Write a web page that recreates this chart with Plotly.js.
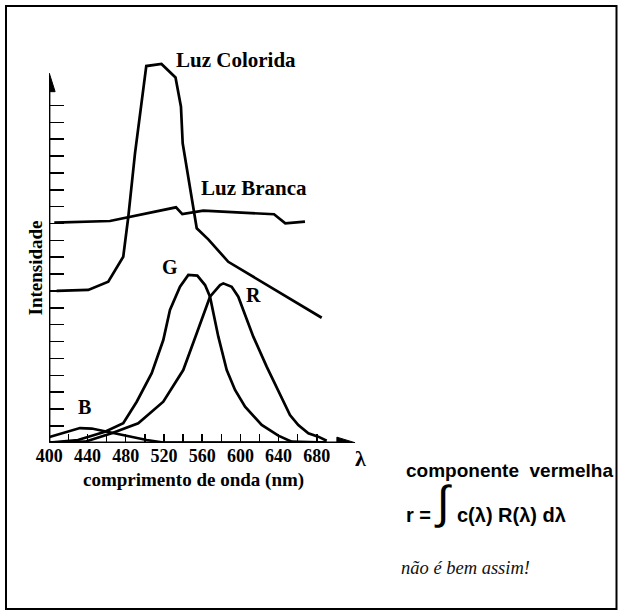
<!DOCTYPE html>
<html>
<head>
<meta charset="utf-8">
<script src="https://cdn.plot.ly/plotly-3.0.1.min.js"></script>
<style>html,body{margin:0;padding:0;background:#fff;}#chart{width:622px;height:615px;}</style>
</head>
<body>
<div id="chart"></div>
<script>
// ---- data (wavelength in nm, intensity in axis tick units) ----
const coloridaNm = [407.7, 440.8, 461.7, 477.4, 482.7, 489.7, 501.5, 517.4, 532.1, 537.8, 539.6, 547.3, 554.3, 566.4, 573.4, 587.3, 685.1];
const coloridaY  = [9.00, 9.06, 9.55, 11.03, 13.40, 17.16, 22.34, 22.46, 21.66, 19.93, 17.76, 14.99, 12.72, 12.06, 11.62, 10.73, 7.41];

const brancaNm = [405.2, 463.5, 532.6, 539.2, 561.2, 635.2, 647.0, 667.6];
const brancaY  = [13.05, 13.15, 13.96, 13.56, 13.76, 13.55, 13.01, 13.11];

const gNm = [400.7, 430.0, 458.3, 477.4, 491.5, 507.2, 519.3, 526.3, 536.8, 545.5, 554.9, 563.0, 568.2, 576.9, 585.7, 594.4, 604.9, 622.3, 639.7, 653.7, 690];
const gY  = [0.00, 0.16, 0.65, 1.15, 2.43, 4.12, 6.09, 7.87, 9.25, 9.95, 9.91, 9.35, 8.66, 6.29, 4.31, 3.13, 2.14, 1.05, 0.42, 0.06, 0];

const rNm = [400.7, 437.4, 465.3, 493.1, 519.3, 540.2, 554.3, 568.2, 578.7, 582.1, 590.9, 597.8, 603.0, 613.5, 627.5, 641.4, 651.9, 660.6, 671.1, 681.5, 690.3];
const rY  = [0.00, 0.06, 0.56, 1.15, 2.43, 4.31, 6.49, 8.66, 9.35, 9.45, 9.25, 8.66, 7.87, 6.29, 4.51, 2.93, 1.64, 1.05, 0.56, 0.36, 0.12];

const bNm = [400.2, 416.4, 432.1, 444.4, 463.5, 484.5, 501.9, 519.3, 690];
const bY  = [0.34, 0.62, 0.87, 0.84, 0.62, 0.36, 0.16, 0.01, 0];

const xTickVals = [400, 420, 440, 460, 480, 500, 520, 540, 560, 580, 600, 620, 640, 660, 680];
const xTickText = ['400', '', '440', '', '480', '', '520', '', '560', '', '600', '', '640', '', '680'];
const yTickVals = [1, 2, 3, 4, 5, 6, 7, 8, 9, 10, 11, 12, 13, 14, 15, 16, 17, 18, 19, 20];

// ---- layout geometry ----
const W = 622, H = 615, ML = 49, MR = 265, MT = 55, MB = 172;
const PW = W - ML - MR, PH = H - MT - MB;
const px = v => (v - ML) / PW;          // pixel x -> paper
const py = v => (H - MB - v) / PH;      // pixel y -> paper

const lineStyle = {color: '#000', width: 2.7};
const mk = (x, y) => ({x: x, y: y, type: 'scatter', mode: 'lines', line: lineStyle, hoverinfo: 'skip', showlegend: false});

const traces = [mk(coloridaNm, coloridaY), mk(brancaNm, brancaY), mk(gNm, gY), mk(rNm, rY), mk(bNm, bY)];

const serifB = {family: 'Liberation Serif, Times New Roman, serif', color: '#000', weight: 'bold'};
const sansB = {family: 'Liberation Sans, Arial, sans-serif', color: '#000', weight: 'bold'};

function ann(text, x, y, font, size, extra) {
  return Object.assign({text: text, x: px(x), y: py(y), xref: 'paper', yref: 'paper', showarrow: false,
    xanchor: 'center', yanchor: 'middle', font: Object.assign({}, font, {size: size})}, extra || {});
}

const annotations = [
  ann('Luz Colorida', 236, 60, serifB, 21),
  ann('Luz Branca', 254, 188, serifB, 21),
  ann('G', 170, 267, serifB, 20),
  ann('R', 253, 295, serifB, 20),
  ann('B', 84, 407, serifB, 20),
  ann('Intensidade', 34.5, 268, serifB, 19, {textangle: -90}),
  ann('comprimento de onda (nm)', 193, 480, serifB, 19),
  ann('λ', 360, 458, serifB, 22),
  ann('componente\u00a0 vermelha', 403.5, 470, sansB, 19, {xanchor: 'left'}),
  ann('r =', 403.5, 515, sansB, 20, {xanchor: 'left'}),
  ann('∫', 443, 502, {family: 'Liberation Sans, Arial, sans-serif', color: '#000'}, 46),
  ann('c(λ) R(λ) dλ', 454.5, 515, sansB, 20, {xanchor: 'left'}),
  ann('<i>não é bem assim!</i>', 398.5, 568, {family: 'Liberation Serif, Times New Roman, serif', color: '#111'}, 18.5, {xanchor: 'left'})
];

const shapes = [
  // outer frame
  {type: 'rect', xref: 'paper', yref: 'paper', x0: px(6), x1: px(616.5), y0: py(609), y1: py(6), line: {color: '#000', width: 2}},
  // x axis line + arrow head
  {type: 'line', xref: 'x', yref: 'y', x0: 400, x1: 702, y0: 0, y1: 0, line: {color: '#000', width: 2.2}},
  {type: 'path', xref: 'x', yref: 'y', path: 'M 701 0.33 L 720 0 L 701 -0.33 Z', fillcolor: '#000', line: {color: '#000', width: 1}},
  // y axis line + arrow head
  {type: 'line', xref: 'x', yref: 'y', x0: 400, x1: 400, y0: 0, y1: 20.9, line: {color: '#000', width: 2.2}},
  {type: 'path', xref: 'x', yref: 'y', path: 'M 393.9 20.82 L 400 21.91 L 406.1 20.82 Z', fillcolor: '#000', line: {color: '#000', width: 1}}
];

const layout = {
  width: W, height: H, autosize: false,
  margin: {l: ML, r: MR, t: MT, b: MB, pad: 0},
  paper_bgcolor: '#fff', plot_bgcolor: 'rgba(0,0,0,0)',
  showlegend: false,
  xaxis: {
    range: [399.69, 722.04], showgrid: false, zeroline: false, showline: false,
    tickmode: 'array', tickvals: xTickVals, ticktext: xTickText,
    ticks: 'inside', ticklen: 9, tickwidth: 1.5, tickcolor: '#000',
    tickfont: {family: 'Liberation Serif, Times New Roman, serif', size: 18, color: '#000', weight: 'bold'},
    fixedrange: true
  },
  yaxis: {
    range: [-0.0178, 22.995], showgrid: false, zeroline: false, showline: false,
    tickmode: 'array', tickvals: yTickVals, showticklabels: false,
    ticks: 'inside', ticklen: 15, tickwidth: 1.5, tickcolor: '#000',
    fixedrange: true
  },
  shapes: shapes,
  annotations: annotations
};

Plotly.newPlot('chart', traces, layout, {staticPlot: true, displayModeBar: false});
</script>
</body>
</html>
